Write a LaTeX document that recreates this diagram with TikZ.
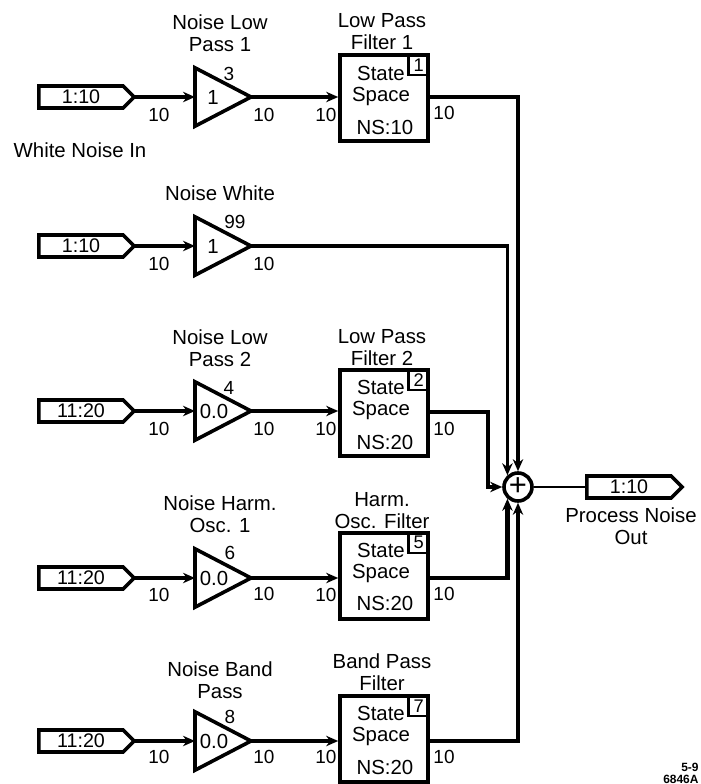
\documentclass[tikz,border=0pt]{standalone}
\usepackage{fontspec}
\setmainfont{Liberation Sans}
\usepackage{tikz}
\usetikzlibrary{arrows.meta, positioning, shapes.geometric, shapes.symbols, calc}
\tikzset{
    % Ports and blocks
    portbox/.style={signal, signal to=east, signal from=nowhere, signal pointer angle=90,
                draw=black, line width=0.09cm, minimum width=2.38cm, minimum height=0.55cm,
                inner sep=0pt, outer sep=0pt, align=center, font=\fontsize{14}{15}\selectfont},
    gainbox/.style={isosceles triangle, isosceles triangle stretches, shape border rotate=0,
                draw=black, line width=0.09cm, minimum width=1.46cm, minimum height=1.4cm,
                inner sep=0pt, outer sep=0pt, anchor=lower side},
    ssbox/.style={rectangle, draw=black, line width=0.09cm, minimum width=2.2cm, minimum height=2.15cm},
    idbox/.style={rectangle, draw=black, line width=0.06cm, minimum width=0.5cm, minimum height=0.52cm,
                inner sep=0pt, anchor=north east, font=\fontsize{13}{14}\selectfont},
    sumnode/.style={circle, draw=black, line width=0.09cm, minimum size=0.7cm, inner sep=0pt},
    % Texts
    blktxt/.style={align=center, inner sep=0pt, font=\fontsize{14.5}{15.6}\selectfont},
    widlbl/.style={inner sep=0pt, font=\fontsize{13.5}{14}\selectfont},
    % Connectors
    sigarrow/.style={-{Stealth[length=3mm, width=2.6mm]}, line width=0.08cm},
    sigthick/.style={-{Stealth[length=3mm, width=2.6mm]}, line width=0.115cm},
}
\begin{document}
\begin{tikzpicture}[x=0.025cm, y=-0.025cm]
\useasboundingbox (0,0) rectangle (700,784);

% row 1
\node[portbox] (p1) at (81,97) {1:10};
\node[gainbox] (g1) at (195,97) {};
\node[ssbox] (fb1) at (384,98) {};
\node[idbox] (id1) at (fb1.north east) {1};
\node[blktxt] (ti1) at (220,33) {Noise Low\\Pass 1};
\node[blktxt] (tf1) at (382,32) {Low Pass\\Filter 1};
\node[blktxt] (ss1) at (381,86) {State\\Space};
\node[blktxt] (ns1) at (385,127) {NS:10};
\node[blktxt] (gv1) at (213,97) {1};
\node[widlbl] (gn1) at (229,74) {3};
\node[widlbl] (wa1) at (159,115) {10};
\node[widlbl] (wb1) at (264,115) {10};
\node[widlbl] (wc1) at (326,115) {10};
\node[widlbl] (wd1) at (444,113) {10};
\node[blktxt] (wni) at (80,150) {White Noise In};

% row 2
\node[portbox] (p2) at (81,246) {1:10};
\node[gainbox] (g2) at (195,246) {};
\node[blktxt] (ti2) at (220,193) {Noise White};
\node[blktxt] (gv2) at (213,246) {1};
\node[widlbl] (gn2) at (235,222) {99};
\node[widlbl] (wa2) at (159,264) {10};
\node[widlbl] (wb2) at (264,264) {10};

% row 3
\node[portbox] (p3) at (81,411) {11:20};
\node[gainbox] (g3) at (195,411) {};
\node[ssbox] (fb3) at (384,413) {};
\node[idbox] (id3) at (fb3.north east) {2};
\node[blktxt] (ti3) at (220,348) {Noise Low\\Pass 2};
\node[blktxt] (tf3) at (382,348) {Low Pass\\Filter 2};
\node[blktxt] (ss3) at (381,400) {State\\Space};
\node[blktxt] (ns3) at (385,442) {NS:20};
\node[blktxt] (gv3) at (214,411) {0.0};
\node[widlbl] (gn3) at (229,388) {4};
\node[widlbl] (wa3) at (159,429) {10};
\node[widlbl] (wb3) at (264,429) {10};
\node[widlbl] (wc3) at (326,429) {10};
\node[widlbl] (wd3) at (444,429) {10};

% row 4
\node[portbox] (p4) at (81,578) {11:20};
\node[gainbox] (g4) at (195,578) {};
\node[ssbox] (fb4) at (384,576) {};
\node[idbox] (id4) at (fb4.north east) {5};
\node[blktxt] (ti4) at (220,514) {Noise Harm.\\Osc. 1};
\node[blktxt] (tf4) at (382,511) {Harm.\\Osc. Filter};
\node[blktxt] (ss4) at (381,563) {State\\Space};
\node[blktxt] (ns4) at (385,603) {NS:20};
\node[blktxt] (gv4) at (214,578) {0.0};
\node[widlbl] (gn4) at (230,553) {6};
\node[widlbl] (wa4) at (159,595) {10};
\node[widlbl] (wb4) at (264,594) {10};
\node[widlbl] (wc4) at (326,595) {10};
\node[widlbl] (wd4) at (444,594) {10};

% row 5
\node[portbox] (p5) at (81,741) {11:20};
\node[gainbox] (g5) at (195,741) {};
\node[ssbox] (fb5) at (384,739) {};
\node[idbox] (id5) at (fb5.north east) {7};
\node[blktxt] (ti5) at (220,680) {Noise Band\\Pass};
\node[blktxt] (tf5) at (382,672) {Band Pass\\Filter};
\node[blktxt] (ss5) at (381,726) {State\\Space};
\node[blktxt] (ns5) at (385,767) {NS:20};
\node[blktxt] (gv5) at (214,741) {0.0};
\node[widlbl] (gn5) at (230,717) {8};
\node[widlbl] (wa5) at (159,757) {10};
\node[widlbl] (wb5) at (264,757) {10};
\node[widlbl] (wc5) at (326,757) {10};
\node[widlbl] (wd5) at (444,757) {10};

% summing point and output
\node[sumnode, font=\fontsize{22}{22}\selectfont] (sum) at (518,487) {+};
\node[portbox] (pout) at (629,487) {1:10};
\node[blktxt] (tout) at (631,526) {Process Noise\\Out};
\node[inner sep=0pt, font=\fontsize{8.5}{10}\selectfont\bfseries, anchor=west] (fig1) at (681,767) {5-9};
\node[inner sep=0pt, font=\fontsize{8.5}{10}\selectfont\bfseries, anchor=west] (fig2) at (663,779) {6846A};

\coordinate (k3) at (488,412);

\draw[sigarrow] (p1.east) -- (g1.lower side);
\draw[sigarrow] (p2.east) -- (g2.lower side);
\draw[sigarrow] (p3.east) -- (g3.lower side);
\draw[sigarrow] (p4.east) -- (g4.lower side);
\draw[sigarrow] (p5.east) -- (g5.lower side);

\draw[sigarrow] (g1.apex) -- (g1.apex -| fb1.west);
\draw[sigarrow] (g3.apex) -- (g3.apex -| fb3.west);
\draw[sigarrow] (g4.apex) -- (g4.apex -| fb4.west);
\draw[sigarrow] (g5.apex) -- (g5.apex -| fb5.west);

\draw[sigthick] (g1.apex -| fb1.east) -| (sum.north);
\draw[sigarrow] (g2.apex) -| (sum.132);
\draw[sigarrow] (k3 -| fb3.east) -- (k3) |- (sum.west);
\draw[sigthick] (g4.apex -| fb4.east) -| (sum.228);
\draw[sigarrow] (g5.apex -| fb5.east) -| (sum.south);
\draw[line width=0.06cm] (sum.east) -- (pout.west);
\end{tikzpicture}
\end{document}
